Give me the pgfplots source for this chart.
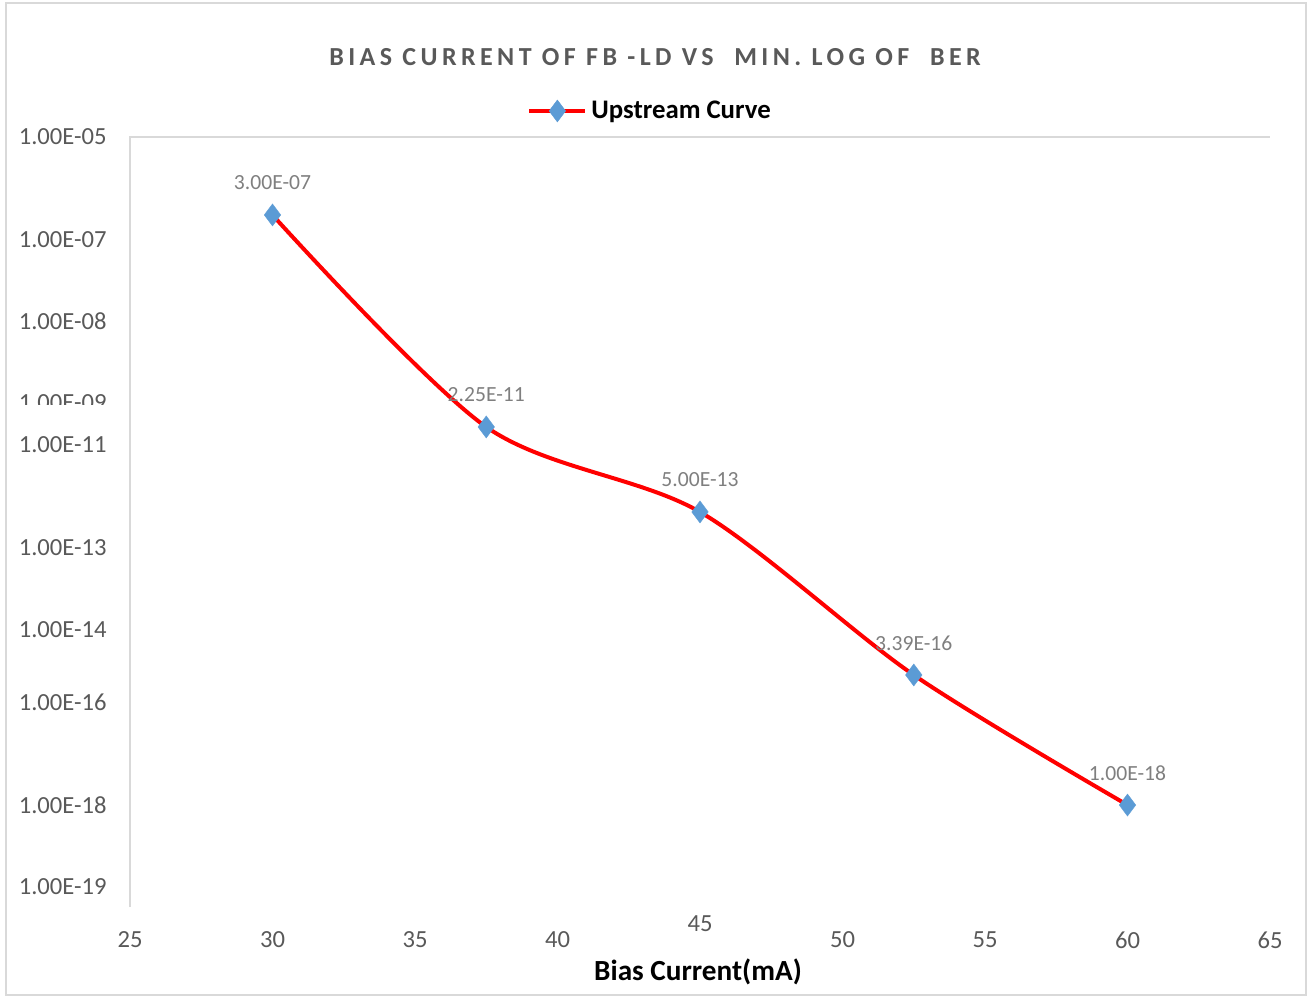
\documentclass[border=0pt]{standalone}
\usepackage{pgfplots}
\pgfplotsset{compat=1.18}
\usepackage{fontspec}
\setmainfont{Carlito}
\newfontfamily\titlefont[LetterSpace=17]{Carlito}
\definecolor{tickgray}{HTML}{595959}
\definecolor{labgray}{HTML}{7F7F7F}
\definecolor{mblue}{HTML}{5B9BD5}
\definecolor{bordergray}{HTML}{D9D9D9}
\newlength\cutw
\newcommand{\cutlabel}[1]{\settowidth{\cutw}{#1}\rlap{#1}\textcolor{white}{\rule{\cutw}{2.9pt}}}
\pgfplotstableread{
x y lab
30   -6.456  3.00E-07
37.5 -10.413 2.25E-11
45   -12.000 5.00E-13
52.5 -15.043 3.39E-16
60   -17.470 1.00E-18
}\bertable
\begin{document}
\begin{tikzpicture}
\path (0,0) rectangle (655pt,499pt);
\draw[bordergray, line width=0.8pt] (3pt,1.5pt) rectangle (653pt,497.5pt);
\node[font=\titlefont\bfseries\fontsize{13}{15}\selectfont, text=tickgray] at (327.5pt,470.5pt) {BIAS CURRENT OF FB -LD VS\ \ MIN. LOG OF\ \ BER};
\node[font=\bfseries\fontsize{14.6}{17}\selectfont, text=black] at (349pt,13pt) {Bias Current(mA)};
\begin{axis}[
  at={(65pt,45.5pt)}, anchor=south west,
  scale only axis, width=570pt, height=385pt,
  xmin=25, xmax=65, ymin=-19.374, ymax=-5,
  axis line style={draw=none},
  tick style={draw=none},
  clip=false,
  xtick={25,30,35,40,50,55,60,65},
  xticklabels={25,30,35,40,50,55,60,65},
  extra x ticks={45},
  extra x tick labels={45},
  extra x tick style={xticklabel style={yshift=8pt}},
  xticklabel style={anchor=center, inner sep=0pt, yshift=-16.5pt, font=\fontsize{12.3}{14}\selectfont, text=tickgray},
  ytick={-5,-6.923,-8.435,-9.966,-10.749,-12.672,-14.203,-15.547,-17.470,-19.0},
  yticklabels={1.00E-05,1.00E-07,1.00E-08,\cutlabel{1.00E-09},1.00E-11,1.00E-13,1.00E-14,1.00E-16,1.00E-18,1.00E-19},
  yticklabel style={anchor=east, inner sep=0pt, xshift=-11.5pt, font=\fontsize{12.3}{14}\selectfont, text=tickgray},
  legend style={at={(0.3482,1.0338)}, anchor=west, draw=none, fill=none, inner sep=0pt,
    font=\bfseries\fontsize{13.4}{15}\selectfont},
  legend image code/.code={\draw[mark repeat=2,mark phase=2,#1] plot coordinates {(0pt,0pt) (14pt,0pt) (28pt,0pt)};},
]
\draw[bordergray, line width=0.8pt] (rel axis cs:0,0) -- (rel axis cs:0,1) -- (rel axis cs:1,1);
\addplot[red, line width=2pt, smooth, mark=diamond*, mark size=5.5pt,
  mark options={draw=mblue, fill=mblue, line width=0.2pt},
  nodes near coords, point meta=explicit symbolic,
  every node near coord/.append style={anchor=center, yshift=16pt, inner sep=0pt,
    font=\fontsize{10.8}{12}\selectfont, text=labgray}]
  table[x=x, y=y, meta=lab] {\bertable};
\addlegendentry{Upstream Curve}
\end{axis}
\end{tikzpicture}
\end{document}
